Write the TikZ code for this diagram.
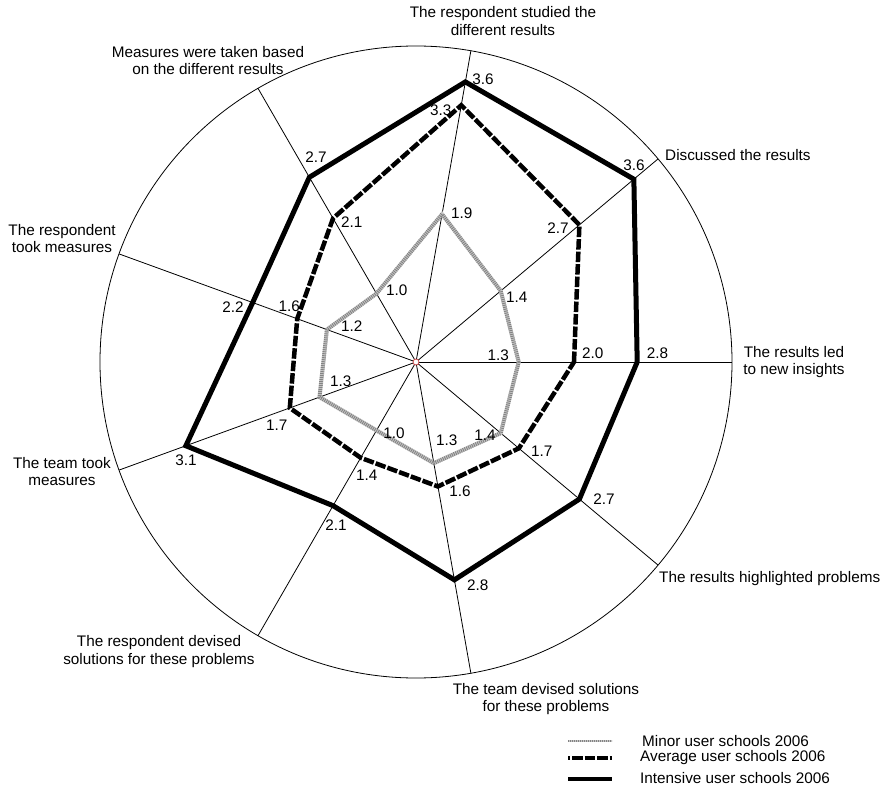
\documentclass[tikz,border=0pt]{standalone}
\usepackage{fontspec}
\setmainfont{Liberation Sans}
\begin{document}
\begin{tikzpicture}[x=1pt,y=1pt,
  axisline/.style={line width=0.8pt},
  minorbase/.style={line width=4pt, draw=gray!45},
  minortex/.style={line width=4pt, draw=black!70, dash pattern=on 0.9pt off 1.1pt},
  avgline/.style={line width=4.5pt, dash pattern=on 10.5pt off 2pt},
  intline/.style={line width=5pt},
  lbl/.style={font=\fontsize{15.3}{17.7}\selectfont, inner sep=0pt, align=center},
  val/.style={font=\fontsize{15.3}{17.7}\selectfont, inner sep=0pt}
]
\useasboundingbox (-416,-430) rectangle (469,362);
\def\R{316}
\def\U{79}

% spokes and outer ring (scale 0..4)
\foreach \i in {0,...,8} {
  \coordinate (ax-\i) at ({40*\i}:\R);
}
\coordinate (o) at (0,0);
\foreach \i in {0,...,8} \draw[axisline] (o) -- (ax-\i);
\draw[axisline] (o) circle (\R);

% data points, spokes counter-clockwise from the right
\foreach \v [count=\i from 0] in {1.3,1.4,1.9,1.0,1.2,1.3,1.0,1.3,1.4}
  \coordinate (mi-\i) at ({40*\i}:{\v*\U});
\foreach \v [count=\i from 0] in {2.0,2.7,3.3,2.1,1.6,1.7,1.4,1.6,1.7}
  \coordinate (av-\i) at ({40*\i}:{\v*\U});
\foreach \v [count=\i from 0] in {2.8,3.6,3.6,2.7,2.2,3.1,2.1,2.8,2.7}
  \coordinate (in-\i) at ({40*\i}:{\v*\U});

% series
\draw[minorbase] (mi-0) -- (mi-1) -- (mi-2) -- (mi-3) -- (mi-4) -- (mi-5) -- (mi-6) -- (mi-7) -- (mi-8) -- cycle;
\draw[minortex, opacity=0.55] (mi-0) -- (mi-1) -- (mi-2) -- (mi-3) -- (mi-4) -- (mi-5) -- (mi-6) -- (mi-7) -- (mi-8) -- cycle;
\draw[avgline] (av-0) -- (av-1) -- (av-2) -- (av-3) -- (av-4) -- (av-5) -- (av-6) -- (av-7) -- (av-8) -- cycle;
\draw[intline] (in-0) -- (in-1) -- (in-2) -- (in-3) -- (in-4) -- (in-5) -- (in-6) -- (in-7) -- (in-8) -- cycle;

% centre marker
\node[circle, draw={rgb,255:red,200;green,70;blue,70}, fill=white, line width=0.8pt,
      minimum size=6pt, inner sep=0pt] (ctr) at (o) {};

% category labels
\node[lbl] (c0) at (378,0) {The results led\\to new insights};
\node[lbl, anchor=west] (c1) at (249,207) {Discussed the results};
\node[lbl] (c2) at (87,341) {The respondent studied the\\different results};
\node[lbl] (c3) at (-208,301.5) {Measures were taken based\\on the different results};
\node[lbl] (c4) at (-354,123.5) {The respondent\\took measures};
\node[lbl] (c5) at (-354,-109.5) {The team took\\measures};
\node[lbl] (c6) at (-257,-289.5) {The respondent devised\\solutions for these problems};
\node[lbl] (c7) at (130,-337) {The team devised solutions\\for these problems};
\node[lbl, anchor=west] (c8) at (243,-217) {The results highlighted problems};

% values: intensive users
\node[val] (vi0) at (241.5,9) {2.8};
\node[val] (vi1) at (218,197) {3.6};
\node[val] (vi2) at (67,283) {3.6};
\node[val] (vi3) at (-100,205.3) {2.7};
\node[val] (vi4) at (-183,55.3) {2.2};
\node[val] (vi5) at (-230,-98.7) {3.1};
\node[val] (vi6) at (-80,-163) {2.1};
\node[val] (vi7) at (61.7,-223.7) {2.8};
\node[val] (vi8) at (188,-137) {2.7};

% values: average users
\node[val] (va0) at (176.7,9) {2.0};
\node[val] (va1) at (142,134) {2.7};
\node[val] (va2) at (24.7,252) {3.3};
\node[val] (va3) at (-64.3,140.3) {2.1};
\node[val] (va4) at (-126.7,55.3) {1.6};
\node[val] (va5) at (-139.3,-63) {1.7};
\node[val] (va6) at (-49.3,-113.7) {1.4};
\node[val] (va7) at (44,-129.7) {1.6};
\node[val] (va8) at (125.7,-89.7) {1.7};

% values: minor users
\node[val] (vm0) at (82.3,6.3) {1.3};
\node[val] (vm1) at (100.7,64.7) {1.4};
\node[val] (vm2) at (45.7,148.7) {1.9};
\node[val] (vm3) at (-19.3,72) {1.0};
\node[val] (vm4) at (-64.3,36.3) {1.2};
\node[val] (vm5) at (-75.3,-19.7) {1.3};
\node[val] (vm6) at (-22,-71.3) {1.0};
\node[val] (vm7) at (30.7,-78) {1.3};
\node[val] (vm8) at (69,-73) {1.4};

% legend
\coordinate (l1a) at (152,-379); \coordinate (l1b) at (196,-379);
\coordinate (l2a) at (152,-396); \coordinate (l2b) at (196,-396);
\coordinate (l3a) at (152,-417); \coordinate (l3b) at (196,-417);
\draw[line width=2pt, draw=gray!45] (l1a) -- (l1b);
\draw[line width=2pt, draw=black!70, opacity=0.55, dash pattern=on 0.9pt off 1.1pt] (l1a) -- (l1b);
\draw[avgline, dash phase=8.5pt] (l2a) -- (l2b);
\draw[line width=4pt] (l3a) -- (l3b);
\node[val, anchor=west] (g1) at (226,-379) {Minor user schools 2006};
\node[val, anchor=west] (g2) at (224,-396) {Average user schools 2006};
\node[val, anchor=west] (g3) at (224,-416) {Intensive user schools 2006};
\end{tikzpicture}
\end{document}
